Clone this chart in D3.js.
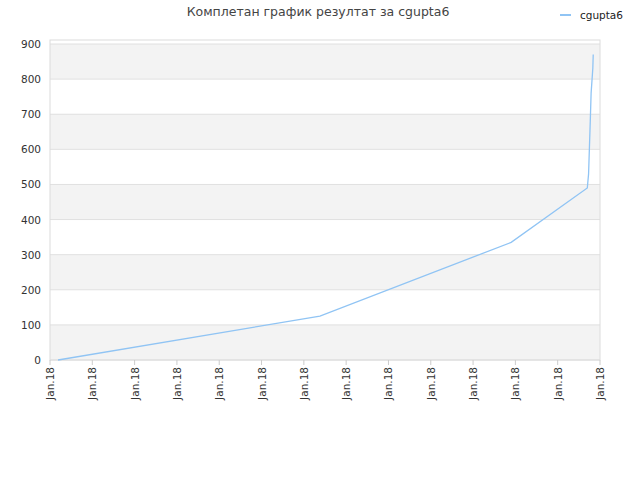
<!DOCTYPE html><html><head><script src="https://cdn.jsdelivr.net/npm/d3@7"></script>
<style>body{margin:0;background:#fff}text{font-family:"DejaVu Sans",sans-serif}</style></head><body><svg width="640" height="480"></svg>
<script>
const times=[1.9,63.8,109,127,127.3,127.7,127.9,128.3,128.4];
const values=[0,125,335,490,530,680,760,830,870];
const xTicks=d3.range(0,131,10);
const xTickLabel="Jan.18";
const yTicks=d3.range(0,901,100);
const svg=d3.select("svg");
const x=d3.scaleLinear().domain([0,130]).range([50,600]);
const y=d3.scaleLinear().domain([0,900]).range([360,44]);
const plotTop=40;
yTicks.forEach((v,i)=>{ if(i%2==0){ const y1=i+1<yTicks.length?y(yTicks[i+1]):plotTop; svg.append("rect").attr("x",50).attr("width",550).attr("y",y1).attr("height",y(v)-y1).attr("fill","#f3f3f3");}});
yTicks.forEach(v=>svg.append("line").attr("x1",50).attr("x2",600).attr("y1",y(v)).attr("y2",y(v)).attr("stroke","#e0e0e0"));
svg.append("rect").attr("x",50).attr("y",plotTop).attr("width",550).attr("height",360-plotTop).attr("fill","none").attr("stroke","#dcdcdc");
yTicks.forEach(v=>svg.append("text").attr("x",41).attr("y",y(v)+4).attr("text-anchor","end").attr("font-size",10.5).attr("fill","#333").text(v));
xTicks.forEach(t=>{svg.append("line").attr("x1",x(t)).attr("x2",x(t)).attr("y1",360).attr("y2",365).attr("stroke","#ccc");
 svg.append("text").attr("transform",`translate(${x(t)+4},367) rotate(-90)`).attr("text-anchor","end").attr("font-size",10.5).attr("fill","#333").text(xTickLabel);});
svg.append("path").datum(times.map((t,i)=>[t,values[i]])).attr("d",d3.line().x(d=>x(d[0])).y(d=>y(d[1]))).attr("fill","none").attr("stroke","#90c4f4").attr("stroke-width",1.3);
svg.append("text").attr("x",318).attr("y",16).attr("text-anchor","middle").attr("font-size",12.5).attr("fill","#444").text("Комплетан график резултат за cgupta6");
svg.append("line").attr("x1",560).attr("x2",571).attr("y1",15).attr("y2",15).attr("stroke","#90c4f4").attr("stroke-width",2);
svg.append("text").attr("x",580).attr("y",19).attr("font-size",10.5).attr("fill","#222").text("cgupta6");
</script></body></html>
